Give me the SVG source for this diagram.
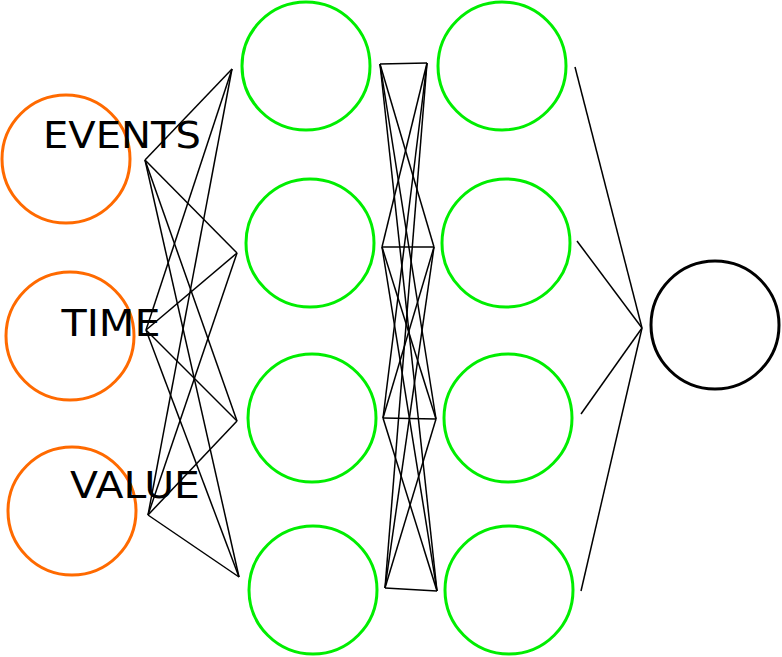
<svg xmlns="http://www.w3.org/2000/svg" width="782" height="657" viewBox="0 0 782 657">
<style>
.in{fill:none;stroke:#ff6a00;stroke-width:3}
.hid{fill:none;stroke:#00ee00;stroke-width:3}
.out{fill:none;stroke:#000;stroke-width:3}
.lbl{font-family:"DejaVu Sans",sans-serif;font-size:37px;fill:#000;text-anchor:middle}
#connectors line{stroke:#000;stroke-width:1.5}
</style>
<rect width="782" height="657" fill="#fff"/>
<g id="input-events"><circle class="in" cx="66" cy="159" r="64"/></g>
<g id="input-time"><circle class="in" cx="70" cy="336" r="64"/></g>
<g id="input-value"><circle class="in" cx="72" cy="511" r="64"/></g>
<g id="h1-1"><circle class="hid" cx="306" cy="66" r="64"/></g>
<g id="h1-2"><circle class="hid" cx="310" cy="243" r="64"/></g>
<g id="h1-3"><circle class="hid" cx="312" cy="418" r="64"/></g>
<g id="h1-4"><circle class="hid" cx="313" cy="590" r="64"/></g>
<g id="h2-1"><circle class="hid" cx="502" cy="66" r="64"/></g>
<g id="h2-2"><circle class="hid" cx="506" cy="243" r="64"/></g>
<g id="h2-3"><circle class="hid" cx="508" cy="418" r="64"/></g>
<g id="h2-4"><circle class="hid" cx="509" cy="590" r="64"/></g>
<g id="output"><circle class="out" cx="715" cy="325" r="64"/></g>
<g id="connectors">
<line x1="145" y1="160" x2="232" y2="69"/>
<line x1="145" y1="160" x2="237" y2="253"/>
<line x1="145" y1="160" x2="237" y2="421"/>
<line x1="145" y1="160" x2="239" y2="577"/>
<line x1="146" y1="330" x2="232" y2="69"/>
<line x1="146" y1="330" x2="237" y2="253"/>
<line x1="146" y1="330" x2="237" y2="421"/>
<line x1="146" y1="330" x2="239" y2="577"/>
<line x1="148" y1="515" x2="232" y2="69"/>
<line x1="148" y1="515" x2="237" y2="253"/>
<line x1="148" y1="515" x2="237" y2="421"/>
<line x1="148" y1="515" x2="239" y2="577"/>
<line x1="380" y1="64" x2="427" y2="63"/>
<line x1="380" y1="64" x2="434" y2="247"/>
<line x1="380" y1="64" x2="436" y2="419"/>
<line x1="380" y1="64" x2="437" y2="591"/>
<line x1="382" y1="247" x2="427" y2="63"/>
<line x1="382" y1="247" x2="434" y2="247"/>
<line x1="382" y1="247" x2="436" y2="419"/>
<line x1="382" y1="247" x2="437" y2="591"/>
<line x1="383" y1="418" x2="427" y2="63"/>
<line x1="383" y1="418" x2="434" y2="247"/>
<line x1="383" y1="418" x2="436" y2="419"/>
<line x1="383" y1="418" x2="437" y2="591"/>
<line x1="385" y1="588" x2="427" y2="63"/>
<line x1="385" y1="588" x2="434" y2="247"/>
<line x1="385" y1="588" x2="436" y2="419"/>
<line x1="385" y1="588" x2="437" y2="591"/>
<line x1="575" y1="67" x2="642" y2="328"/>
<line x1="577" y1="241" x2="642" y2="328"/>
<line x1="581" y1="414" x2="642" y2="328"/>
<line x1="581" y1="591" x2="642" y2="328"/>
</g>
<g id="labels">
<text class="lbl" x="122" y="148" textLength="158" lengthAdjust="spacingAndGlyphs">EVENTS</text>
<text class="lbl" x="111" y="336" textLength="99" lengthAdjust="spacingAndGlyphs">TIME</text>
<text class="lbl" x="135" y="498" textLength="130" lengthAdjust="spacingAndGlyphs">VALUE</text>
</g>
</svg>
